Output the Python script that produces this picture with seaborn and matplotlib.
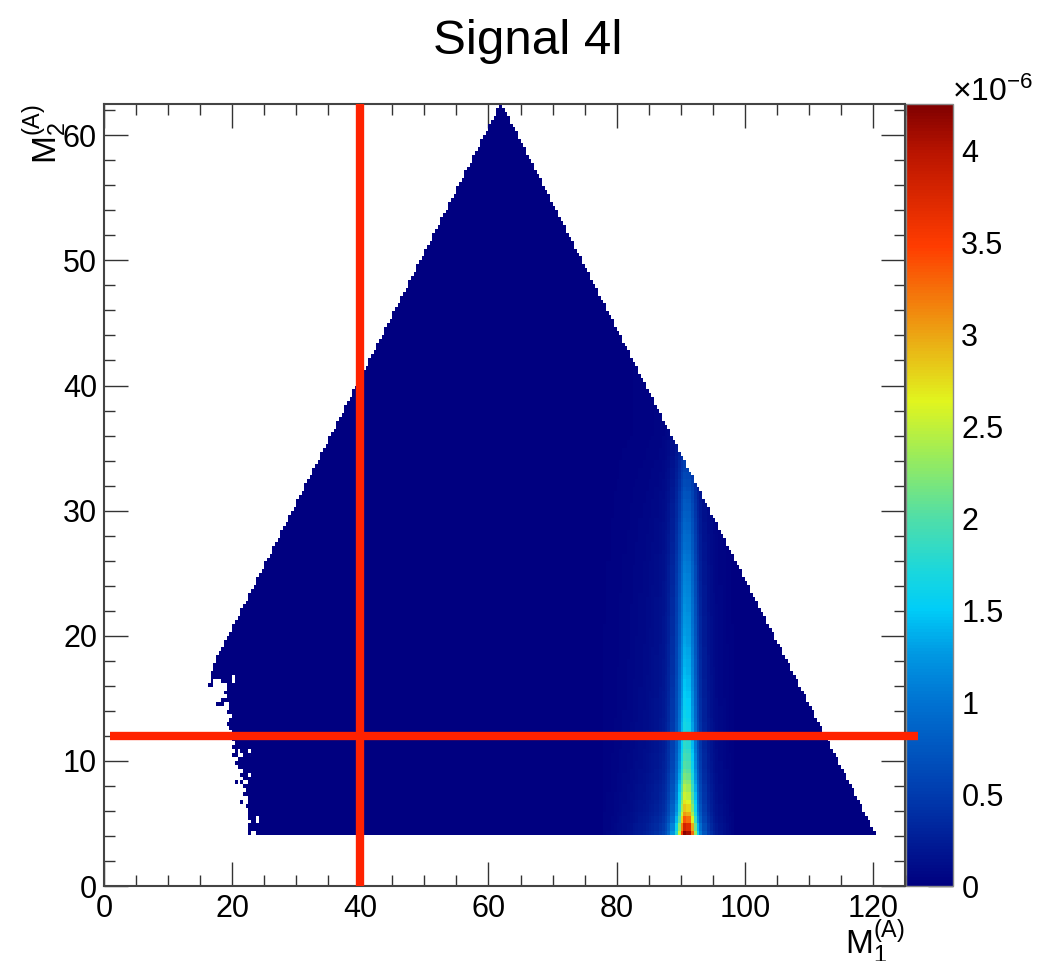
import numpy as np
import pandas as pd
import matplotlib
matplotlib.use("Agg")
import matplotlib.pyplot as plt
import seaborn as sns
from matplotlib.colors import LinearSegmentedColormap
from matplotlib.ticker import MultipleLocator, FixedLocator

# ---------------- data ----------------
TITLE = "Signal 4l"
X_LABEL = r"$M_1^{(A)}$"
Y_LABEL = r"$M_2^{(A)}$"
X_RANGE = (0.0, 125.0)
Y_RANGE = (0.0, 62.5)
N_XBINS = 300
N_YBINS = 200

# kinematic boundaries of the filled region
M2_MIN = 4.0          # lower cut on M2
DIAG_OFFSET = 0.6     # M1 >= M2 - DIAG_OFFSET
SUM_MAX = 124.6       # M1 + M2 <= SUM_MAX
JAG_TOP = 17.5        # below this M2 the left edge is ragged

# peak height of the Z ridge (units of 1e-6), one value per 0.5 in M2 from 4.0
ridge_m2_start = 4.0
ridge_m2_step = 0.5
ridge_peak = [4.20, 3.80, 3.35, 3.05, 2.85, 2.70, 2.55, 2.42, 2.30, 2.20,
              2.10, 2.02, 1.95, 1.88, 1.82, 1.76, 1.71, 1.67, 1.63, 1.60,
              1.57, 1.54, 1.51, 1.48, 1.46, 1.44, 1.41, 1.39, 1.37, 1.35,
              1.33, 1.31, 1.29, 1.27, 1.25, 1.23, 1.21, 1.19, 1.17, 1.15,
              1.13, 1.11, 1.09, 1.06, 1.03, 1.00, 0.97, 0.94, 0.91, 0.88,
              0.85, 0.82, 0.79, 0.76, 0.72, 0.68, 0.64, 0.60, 0.56, 0.52,
              0.48, 0.44, 0.40, 0.36, 0.32]

# transverse shape of the ridge in M1 (relative), one value per 0.5 from 78.0
profile_m1_start = 78.0
profile_m1_step = 0.5
ridge_profile = [0.010, 0.012, 0.015, 0.018, 0.021, 0.025, 0.029, 0.033, 0.038, 0.043,
                 0.048, 0.054, 0.060, 0.067, 0.075, 0.084, 0.095, 0.110, 0.130, 0.160,
                 0.210, 0.290, 0.420, 0.600, 0.830, 1.000, 0.970, 0.780, 0.560, 0.370,
                 0.250, 0.170, 0.120, 0.090, 0.068, 0.052, 0.040, 0.030, 0.022, 0.015,
                 0.010]
BASE = 0.004  # low level filling the rest of the region

# ragged left edge (M1) for each M2 row below JAG_TOP, from the bottom row up
jag_left = [22.3, 22.6, 22.3, 23.0, 22.6, 22.3, 22.6, 22.0, 21.2, 22.3,
            21.8, 22.0, 21.6, 20.3, 21.8, 21.4, 21.6, 20.8, 20.4, 20.8,
            20.2, 20.6, 20.2, 20.5, 20.0, 19.8, 20.2, 19.4, 19.0, 19.6,
            19.8, 19.2, 19.6, 17.6, 18.4, 19.0, 18.6, 19.2, 16.4, 16.6,
            16.8, 16.6, 17.2]
# empty cells inside the ragged region
hole_m1 = [23.1, 23.5, 24.0, 24.0, 21.7, 22.1, 20.9, 21.7, 22.1, 22.9,
           22.9, 21.2, 21.6, 21.2, 20.1, 20.1, 17.1, 17.5, 17.9, 18.3,
           18.7, 19.1, 17.1, 17.5, 17.9, 18.3, 18.9, 19.3]
hole_m2 = [4.2, 4.2, 5.3, 5.6, 6.7, 6.7, 8.3, 8.3, 8.3, 8.9,
           10.7, 10.5, 10.5, 10.8, 16.8, 16.5, 16.1, 16.1, 16.1, 16.1,
           16.1, 16.1, 16.4, 16.4, 16.4, 16.4, 14.5, 14.5]

# red cut lines
vline_m1 = 40.0
vline_m2 = [0.0, 62.5]
hline_m2 = 12.0
hline_m1 = [1.0, 127.0]

CMAX = 4.25
cbar_ticks = [0, 0.5, 1, 1.5, 2, 2.5, 3, 3.5, 4]
x_major = [0, 20, 40, 60, 80, 100, 120]
y_major = [0, 10, 20, 30, 40, 50, 60]

# ---------------- build the histogram cells ----------------
xe = np.linspace(X_RANGE[0], X_RANGE[1], N_XBINS + 1)
ye = np.linspace(Y_RANGE[0], Y_RANGE[1], N_YBINS + 1)
xc = 0.5 * (xe[:-1] + xe[1:])
yc = 0.5 * (ye[:-1] + ye[1:])
X, Y = np.meshgrid(xc, yc)

inside = (Y >= M2_MIN) & (X >= Y - DIAG_OFFSET) & (X + Y <= SUM_MAX)
jag_rows = np.where((yc >= M2_MIN) & (yc < JAG_TOP))[0]
for r, left in zip(jag_rows, jag_left):
    inside[r, xc < left] = False
for hx, hy in zip(hole_m1, hole_m2):
    c = np.searchsorted(xe, hx) - 1
    r = np.searchsorted(ye, hy) - 1
    inside[r, c] = False

ridge_arr = np.array(ridge_peak)
k = np.clip(np.floor((yc - ridge_m2_start) / ridge_m2_step).astype(int), 0, len(ridge_arr) - 1)
prof_arr = np.array(ridge_profile)
j = np.floor((xc - profile_m1_start) / profile_m1_step).astype(int)
ok = (j >= 0) & (j < len(prof_arr))
pv = np.zeros_like(xc)
pv[ok] = prof_arr[j[ok]]
Z = np.outer(ridge_arr[k], pv) + BASE

df = pd.DataFrame({"M1": X[inside], "M2": Y[inside], "w": Z[inside]})

# ROOT-like rainbow palette
root_rainbow = LinearSegmentedColormap.from_list("root_rainbow", [
    (0.000, (0 / 255, 0 / 255, 128 / 255)),
    (0.118, (0 / 255, 60 / 255, 175 / 255)),
    (0.235, (0 / 255, 115 / 255, 210 / 255)),
    (0.300, (0 / 255, 155 / 255, 228 / 255)),
    (0.353, (0 / 255, 205 / 255, 248 / 255)),
    (0.400, (25 / 255, 215 / 255, 222 / 255)),
    (0.470, (80 / 255, 222 / 255, 168 / 255)),
    (0.550, (155 / 255, 236 / 255, 90 / 255)),
    (0.620, (225 / 255, 245 / 255, 30 / 255)),
    (0.700, (235 / 255, 170 / 255, 20 / 255)),
    (0.820, (255 / 255, 60 / 255, 0 / 255)),
    (0.940, (185 / 255, 20 / 255, 0 / 255)),
    (1.000, (128 / 255, 0 / 255, 0 / 255)),
], N=256)

# ---------------- plot ----------------
sns.set_style("ticks")
plt.rcParams["font.family"] = ["Liberation Sans", "DejaVu Sans"]
plt.rcParams["mathtext.default"] = "regular"
plt.rcParams["text.color"] = "black"
plt.rcParams["xtick.labelcolor"] = "black"
plt.rcParams["ytick.labelcolor"] = "black"

W, H = 1050, 961
fig = plt.figure(figsize=(W / 100, H / 100), dpi=100)
ax = fig.add_axes([104 / W, 1 - 886 / H, 801 / W, 782 / H])
cax = fig.add_axes([906 / W, 1 - 886 / H, 47 / W, 782 / H])

sns.histplot(data=df, x="M1", y="M2", weights="w", bins=[xe, ye],
             cmap=root_rainbow, vmin=0, vmax=CMAX, thresh=0, cbar=True,
             cbar_ax=cax, cbar_kws={"ticks": cbar_ticks}, ax=ax)

ax.set_xlim(*X_RANGE)
ax.set_ylim(*Y_RANGE)
ax.set_xlabel("")
ax.set_ylabel("")
ax.xaxis.set_major_locator(FixedLocator(x_major))
ax.yaxis.set_major_locator(FixedLocator(y_major))
ax.xaxis.set_minor_locator(MultipleLocator(5))
ax.yaxis.set_minor_locator(MultipleLocator(2))
ax.tick_params(which="both", direction="in", top=True, right=True,
               color="#333333", labelcolor="black", width=1.0, labelsize=22)
ax.tick_params(which="major", length=17)
ax.tick_params(which="minor", length=8)
ax.tick_params(axis="x", pad=6)
ax.tick_params(axis="y", pad=5)
for s in ax.spines.values():
    s.set_visible(True)
    s.set_color("#444444")
    s.set_linewidth(1.5)

# red cut lines
ax.plot([vline_m1, vline_m1], vline_m2, color="#ff2200", lw=6, solid_capstyle="butt",
        clip_on=False, zorder=10)
ax.plot(hline_m1, [hline_m2, hline_m2], color="#ff2200", lw=6, solid_capstyle="butt",
        clip_on=False, zorder=10)
ax.set_zorder(3)

# axis titles (ROOT style, right aligned at the axis end)
ax.text(1.0, -0.04, X_LABEL, transform=ax.transAxes, ha="right", va="top", fontsize=24)
ax.text(-0.074, 1.0, Y_LABEL, transform=ax.transAxes, ha="center", va="top",
        rotation=90, fontsize=24)

# colour bar styling
cax.yaxis.set_ticks_position("right")
cax.minorticks_off()
cax.tick_params(direction="in", length=18, width=1.0, color="#222222",
                labelcolor="black", labelsize=22, pad=6)
cax.set_yticks(cbar_ticks)
cax.set_yticklabels([f"{t:g}" for t in cbar_ticks])
cax.set_ylim(0, CMAX)
for s in cax.spines.values():
    s.set_color("#888888")
    s.set_linewidth(1.0)
fig.text(952 / W, 1 - 101 / H, r"$\times$10$^{-6}$", ha="left", va="baseline", fontsize=23)

fig.text(528 / W, 1 - 42 / H, TITLE, ha="center", va="center", fontsize=35.5)

fig.savefig("out.png", dpi=100, facecolor="white")
